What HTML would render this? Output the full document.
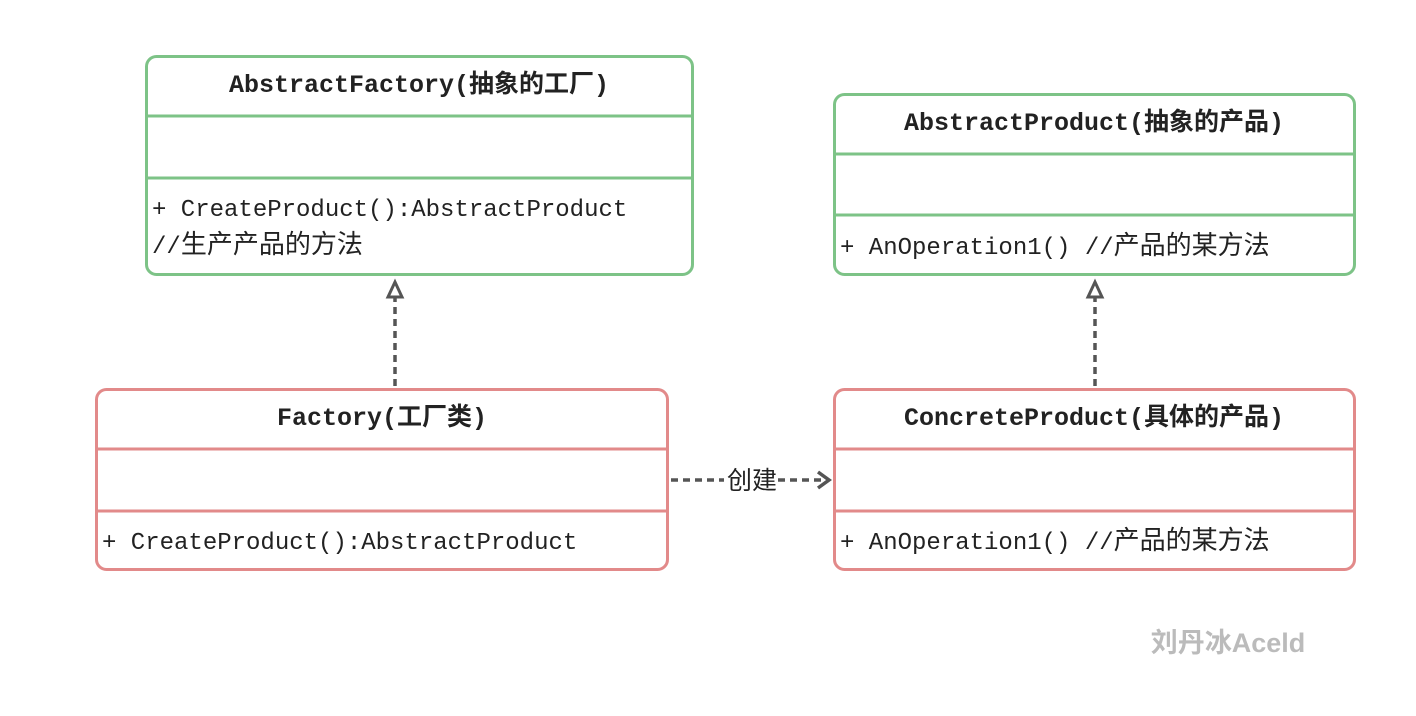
<!DOCTYPE html>
<html><head><meta charset="utf-8"><style>
html,body{margin:0;padding:0;background:#fff;}
svg{display:block;}
.t{font-family:"Liberation Mono","Noto Sans CJK SC",monospace;font-size:24px;fill:#222;}
.b{font-weight:bold;font-size:25px;}
.c{font-size:26px;}
</style></head><body>
<svg width="1416" height="716" viewBox="0 0 1416 716">
<g fill="#fff" stroke-width="3">
<rect x="146.5" y="56.5" width="546" height="218" rx="10" stroke="#7dc387"/>
<line x1="146" y1="116" x2="692" y2="116" stroke="#7dc387"/>
<line x1="146" y1="178" x2="692" y2="178" stroke="#7dc387"/>
<rect x="834.5" y="94.5" width="520" height="180" rx="10" stroke="#7dc387"/>
<line x1="834" y1="154" x2="1355" y2="154" stroke="#7dc387"/>
<line x1="834" y1="215" x2="1355" y2="215" stroke="#7dc387"/>
<rect x="96.5" y="389.5" width="571" height="180" rx="10" stroke="#e28a8a"/>
<line x1="96" y1="449" x2="668" y2="449" stroke="#e28a8a"/>
<line x1="96" y1="511" x2="668" y2="511" stroke="#e28a8a"/>
<rect x="834.5" y="389.5" width="520" height="180" rx="10" stroke="#e28a8a"/>
<line x1="834" y1="449" x2="1355" y2="449" stroke="#e28a8a"/>
<line x1="834" y1="511" x2="1355" y2="511" stroke="#e28a8a"/>
</g>
<g stroke="#555" stroke-width="3.5" fill="none" stroke-dasharray="7,5">
<line x1="395" y1="386" x2="395" y2="298"/>
<line x1="1095" y1="386" x2="1095" y2="298"/>
<line x1="671" y1="480" x2="724" y2="480"/>
<line x1="778" y1="480" x2="826" y2="480"/>
</g>
<g stroke="#555" stroke-width="3" fill="#fff">
<polygon points="395,282 388,297 402,297"/>
<polygon points="1095,282 1088,297 1102,297"/>
</g>
<polyline points="818,472 829,480 818,488" stroke="#555" stroke-width="3.5" fill="none"/>
<text x="752" y="489" text-anchor="middle" style="font-family:'Liberation Sans','Noto Sans CJK SC',sans-serif;font-size:25px;fill:#222">创建</text>
<text class="t b" x="419" y="92" text-anchor="middle">AbstractFactory(抽象的工厂)</text>
<text class="t" x="152" y="216">+ CreateProduct():AbstractProduct</text>
<text class="t" x="152" y="253">//<tspan class="c">生产产品的方法</tspan></text>
<text class="t b" x="1094" y="130" text-anchor="middle">AbstractProduct(抽象的产品)</text>
<text class="t" x="840" y="254">+ AnOperation1() //<tspan class="c">产品的某方法</tspan></text>
<text class="t b" x="382" y="425" text-anchor="middle">Factory(工厂类)</text>
<text class="t" x="102" y="549">+ CreateProduct():AbstractProduct</text>
<text class="t b" x="1094" y="425" text-anchor="middle">ConcreteProduct(具体的产品)</text>
<text class="t" x="840" y="549">+ AnOperation1() //<tspan class="c">产品的某方法</tspan></text>
<text x="1228" y="652" text-anchor="middle" style="font-family:'Liberation Sans','Noto Sans CJK SC',sans-serif;font-size:27px;font-weight:bold;fill:#bbb">刘丹冰Aceld</text>
</svg>
</body></html>
